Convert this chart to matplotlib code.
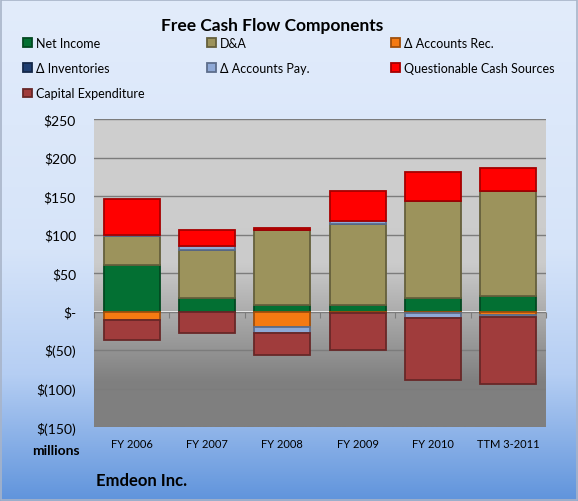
import numpy as np
import matplotlib
matplotlib.use("Agg")
import matplotlib.pyplot as plt
from matplotlib.colors import LinearSegmentedColormap, to_rgb
from matplotlib.patches import Rectangle

plt.rcParams['font.family'] = ['Lato', 'DejaVu Sans']

categories = ['FY 2006', 'FY 2007', 'FY 2008', 'FY 2009', 'FY 2010', 'TTM 3-2011']
net_income = [60, 17, 8, 9, 18, 20]
dep_amort = [38, 63, 98, 105, 126, 136]
accounts_rec = [-11, 0, -20, -2, -1.5, -5]
inventories = [0, 0, 0, 0, 0, 0]
accounts_pay = [1.5, 5, -8, 4, -7, -1.5]
questionable = [47, 21, 3, 39, 37, 30]
capex = [-26, -28, -28, -48, -81, -88]

series = [
    ('Net Income', net_income, '#037033'),
    ('D&A', dep_amort, '#9c935c'),
    ('\u0394 Accounts Rec.', accounts_rec, '#f47a12'),
    ('\u0394 Inventories', inventories, '#1f3e70'),
    ('\u0394 Accounts Pay.', accounts_pay, '#8fa9d6'),
    ('Questionable Cash Sources', questionable, '#ff0000'),
    ('Capital Expenditure', capex, '#a03c3c'),
]

y_ticks = [250, 200, 150, 100, 50, 0, -50, -100, -150]


def money(v):
    if v == 0:
        return '$-'
    if v < 0:
        return '$(%d)' % -v
    return '$%d' % v


def darker(c, f=0.65):
    r, g, b = to_rgb(c)
    return (r * f, g * f, b * f)


fig = plt.figure(figsize=(5.78, 5.02), dpi=100)

# figure background gradient
bg = fig.add_axes([0, 0, 1, 1], zorder=-10)
bg_cmap = LinearSegmentedColormap.from_list(
    'bg', [(0, '#e2ecfb'), (0.5, '#d6e4f9'), (0.75, '#b5cef3'), (1.0, '#6094dc')])
bg.imshow(np.linspace(0, 1, 256).reshape(-1, 1), aspect='auto', cmap=bg_cmap,
          extent=[0, 1, 0, 1], origin='upper')
bg.add_patch(Rectangle((0.002, 0.002), 0.996, 0.996, fill=False,
                       edgecolor='#a8b4c8', linewidth=1.2))
bg.set_xlim(0, 1)
bg.set_ylim(0, 1)
bg.axis('off')

ax = fig.add_axes([94 / 578, 1 - 428 / 502, 452 / 578, 308 / 502])
ymin, ymax = -150, 250

# plot-area gray gradient
pa_cmap = LinearSegmentedColormap.from_list(
    'pa', [(0, '#cfcfcf'), (0.47, '#cbcbcb'), (0.85, '#808080'), (1.0, '#7f7f7f')])
ax.imshow(np.linspace(0, 1, 256).reshape(-1, 1), aspect='auto', cmap=pa_cmap,
          extent=[-0.5, len(categories) - 0.5, ymin, ymax], origin='upper', zorder=0)

x = np.arange(len(categories))
pos_bottom = np.zeros(len(categories))
neg_bottom = np.zeros(len(categories))
handles = {}
for name, vals, col in series:
    vals = np.array(vals, dtype=float)
    bottoms = np.where(vals >= 0, pos_bottom, neg_bottom)
    bars = ax.bar(x, vals, 0.74, bottom=bottoms, color=col,
                  edgecolor=darker(col), linewidth=1.3, zorder=3, label=name)
    handles[name] = bars
    pos_bottom += np.where(vals > 0, vals, 0)
    neg_bottom += np.where(vals < 0, vals, 0)

ax.set_xlim(-0.5, len(categories) - 0.5)
ax.set_ylim(ymin, ymax)
ax.set_yticks(y_ticks)
ax.set_yticklabels([money(v) for v in y_ticks], fontsize=10)
ax.set_xticks(x)
ax.set_xticklabels(categories, fontsize=8)
ax.tick_params(axis='y', length=0, pad=13)
ax.tick_params(axis='x', length=0, pad=8)
ax.grid(axis='y', color='#7c7c7c', linewidth=1.0, zorder=1)
ax.set_axisbelow(True)
for s in ax.spines.values():
    s.set_visible(False)

# small tick marks on the zero line between categories
zero_frac = (0 - ymin) / (ymax - ymin)
zax = ax.secondary_xaxis(zero_frac)
zax.set_xticks(np.arange(len(categories) + 1) - 0.5)
zax.set_xticklabels([])
zax.tick_params(direction='out', length=4, color='#7c7c7c')
zax.spines['bottom'].set_visible(False)
zax.spines['top'].set_visible(False)

fig.text(272 / 578, 1 - 26 / 502, 'Free Cash Flow Components', ha='center',
         va='center', fontsize=12.5, fontweight='bold')

columns = [
    (23, ['Net Income', '\u0394 Inventories', 'Capital Expenditure']),
    (207, ['D&A', '\u0394 Accounts Pay.']),
    (391, ['\u0394 Accounts Rec.', 'Questionable Cash Sources']),
]
for xpix, names in columns:
    fig.legend([handles[n] for n in names], names, loc='upper left',
               bbox_to_anchor=(xpix / 578, 1 - 38 / 502), frameon=False,
               fontsize=9, handlelength=0.7, handleheight=0.7, handletextpad=0.35,
               labelspacing=1.05, borderpad=0, borderaxespad=0)

fig.text(80 / 578, 1 - 451 / 502, 'millions', ha='right', va='center',
         fontsize=10, fontweight='bold')
fig.text(96 / 578, 1 - 481 / 502, 'Emdeon Inc.', ha='left', va='center',
         fontsize=12, fontweight='bold')

fig.savefig('out.png', dpi=100)
